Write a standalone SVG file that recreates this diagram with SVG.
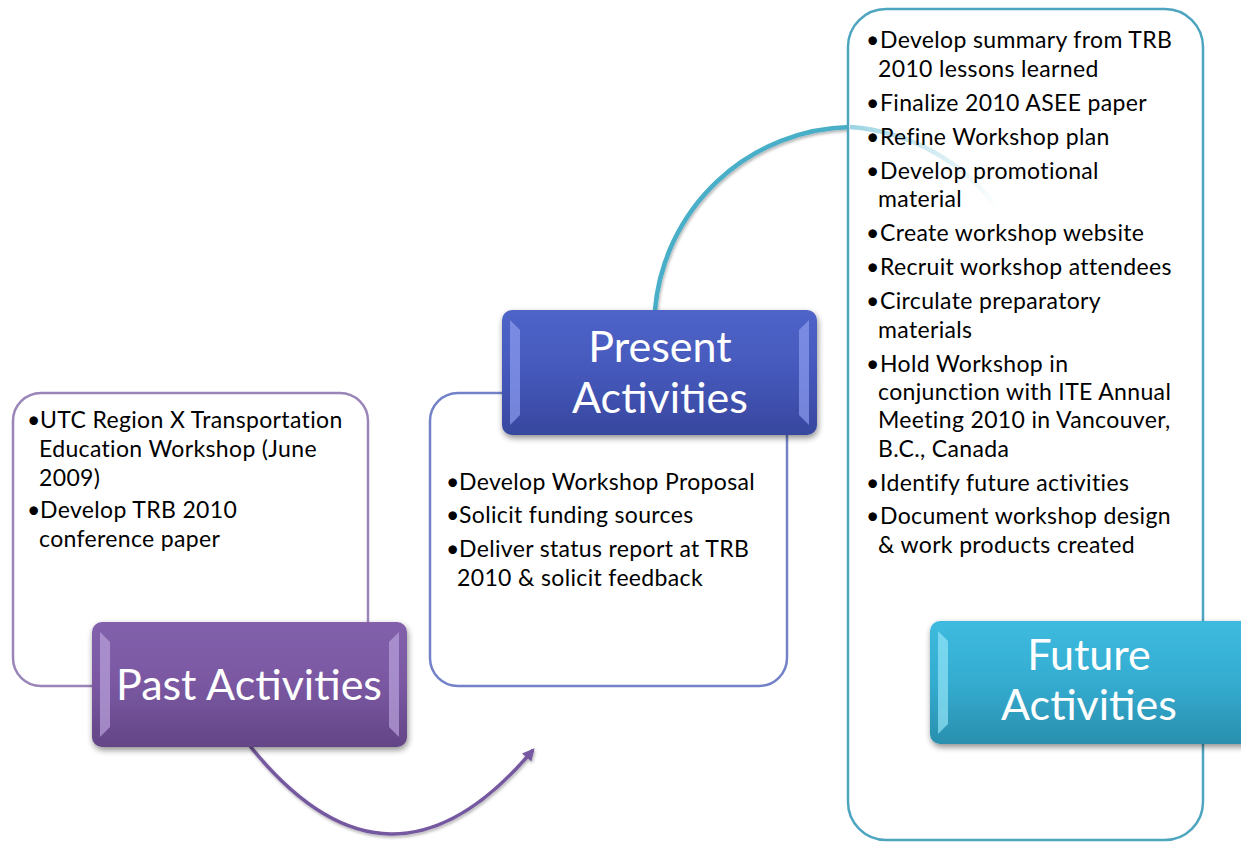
<svg xmlns="http://www.w3.org/2000/svg" width="1241" height="848" viewBox="0 0 1241 848">
  <style>
    .body { font-family: Lato, "Open Sans", "Liberation Sans", sans-serif; font-size: 23px; letter-spacing: 0.35px; fill: #000; }
    .label { font-family: Lato, "Open Sans", "Liberation Sans", sans-serif; font-size: 43px; fill: #fff; text-anchor: middle; }
    .panel { fill: #fff; stroke-width: 2.5; }
  </style>
  <defs>
    <linearGradient id="gPurple" x1="0" y1="0" x2="0" y2="1">
      <stop offset="0" stop-color="#8260ab"/>
      <stop offset="0.5" stop-color="#7a58a2"/>
      <stop offset="1" stop-color="#634586"/>
    </linearGradient>
    <linearGradient id="gBlue" x1="0" y1="0" x2="0" y2="1">
      <stop offset="0" stop-color="#4f64c8"/>
      <stop offset="0.5" stop-color="#4558bb"/>
      <stop offset="1" stop-color="#37479e"/>
    </linearGradient>
    <linearGradient id="gTeal" x1="0" y1="0" x2="0" y2="1">
      <stop offset="0" stop-color="#3dbbdf"/>
      <stop offset="0.5" stop-color="#34acd0"/>
      <stop offset="1" stop-color="#2a8fae"/>
    </linearGradient>
    <linearGradient id="fadeTeal" x1="0" y1="0" x2="1" y2="0">
      <stop offset="0" stop-color="#4bb0cc" stop-opacity="0.55"/>
      <stop offset="1" stop-color="#4bb0cc" stop-opacity="0"/>
    </linearGradient>
    <filter id="shadow" x="-10%" y="-10%" width="125%" height="130%">
      <feGaussianBlur in="SourceAlpha" stdDeviation="3"/>
      <feOffset dx="1" dy="3" result="b"/>
      <feComponentTransfer><feFuncA type="linear" slope="0.45"/></feComponentTransfer>
      <feMerge><feMergeNode/><feMergeNode in="SourceGraphic"/></feMerge>
    </filter>
    <filter id="softShadow" x="-10%" y="-10%" width="120%" height="130%">
      <feGaussianBlur in="SourceAlpha" stdDeviation="1.5"/>
      <feOffset dx="1" dy="2"/>
      <feComponentTransfer><feFuncA type="linear" slope="0.3"/></feComponentTransfer>
      <feMerge><feMergeNode/><feMergeNode in="SourceGraphic"/></feMerge>
    </filter>
    <marker id="arrowPurple" viewBox="0 0 10 10" refX="8" refY="5" markerWidth="3.5" markerHeight="3.5" orient="auto">
      <path d="M0,0 L10,5 L0,10 Z" fill="#7559a0"/>
    </marker>
  </defs>

  <!-- connectors -->
  <g id="connectors" fill="none">
    <path d="M250,746 Q390,920 533,750" stroke="#7559a0" stroke-width="3.5" marker-end="url(#arrowPurple)" filter="url(#softShadow)"/>
    <path d="M655,310 A200,200 0 0 1 850,127" stroke="#48aec8" stroke-width="4.5" filter="url(#softShadow)"/>
  </g>

  <!-- past -->
  <g id="past">
    <rect class="panel" x="13" y="393" width="355" height="293" rx="28" stroke="#9a85b8"/>
    <text class="body" x="27" y="428">•<tspan x="40">UTC Region X Transportation</tspan></text>
    <text class="body" x="39" y="457">Education Workshop (June</text>
    <text class="body" x="39" y="486">2009)</text>
    <text class="body" x="27" y="518">•<tspan x="40">Develop TRB 2010</tspan></text>
    <text class="body" x="39" y="547">conference paper</text>
    <g filter="url(#shadow)">
      <rect x="92" y="622" width="315" height="125" rx="10" fill="url(#gPurple)"/>
      <path d="M100,632 L110,642 L110,727 L100,737 Z" fill="#b9a3dc" opacity="0.7"/>
      <path d="M399,632 L389,642 L389,727 L399,737 Z" fill="#b9a3dc" opacity="0.7"/>
    </g>
    <text class="label" x="249" y="700">Past Activities</text>
  </g>

  <!-- present -->
  <g id="present">
    <rect class="panel" x="430" y="393" width="357" height="293" rx="28" stroke="#7382c8"/>
    <text class="body" x="446" y="490">•<tspan x="459">Develop Workshop Proposal</tspan></text>
    <text class="body" x="446" y="523">•<tspan x="459">Solicit funding sources</tspan></text>
    <text class="body" x="446" y="557">•<tspan x="459">Deliver status report at TRB</tspan></text>
    <text class="body" x="457" y="586">2010 &amp; solicit feedback</text>
    <g filter="url(#shadow)">
      <rect x="502" y="310" width="315" height="125" rx="10" fill="url(#gBlue)"/>
      <path d="M510,320 L520,330 L520,415 L510,425 Z" fill="#8c9cf0" opacity="0.7"/>
      <path d="M809,320 L799,330 L799,415 L809,425 Z" fill="#8c9cf0" opacity="0.7"/>
    </g>
    <text class="label" x="660" y="362">Present</text>
    <text class="label" x="660" y="413">Activities</text>
  </g>

  <!-- future -->
  <g id="future">
    <rect class="panel" x="848" y="9" width="355" height="831" rx="38" stroke="#4ea5c0"/>
    <path d="M850,127 A200,200 0 0 1 1000,212" fill="none" stroke="url(#fadeTeal)" stroke-width="4.5"/>
    <text class="body" x="866" y="48">•<tspan x="880">Develop summary from TRB</tspan></text>
    <text class="body" x="878" y="77">2010 lessons learned</text>
    <text class="body" x="866" y="111">•<tspan x="880">Finalize 2010 ASEE paper</tspan></text>
    <text class="body" x="866" y="145">•<tspan x="880">Refine Workshop plan</tspan></text>
    <text class="body" x="866" y="179">•<tspan x="880">Develop promotional</tspan></text>
    <text class="body" x="878" y="207">material</text>
    <text class="body" x="866" y="241">•<tspan x="880">Create workshop website</tspan></text>
    <text class="body" x="866" y="275">•<tspan x="880">Recruit workshop attendees</tspan></text>
    <text class="body" x="866" y="309">•<tspan x="880">Circulate preparatory</tspan></text>
    <text class="body" x="878" y="338">materials</text>
    <text class="body" x="866" y="372">•<tspan x="880">Hold Workshop in</tspan></text>
    <text class="body" x="878" y="400">conjunction with ITE Annual</text>
    <text class="body" x="878" y="428">Meeting 2010 in Vancouver,</text>
    <text class="body" x="878" y="457">B.C., Canada</text>
    <text class="body" x="866" y="491">•<tspan x="880">Identify future activities</tspan></text>
    <text class="body" x="866" y="524">•<tspan x="880">Document workshop design</tspan></text>
    <text class="body" x="878" y="553">&amp; work products created</text>
    <g filter="url(#shadow)">
      <rect x="930" y="621" width="325" height="123" rx="10" fill="url(#gTeal)"/>
      <path d="M938,631 L948,641 L948,724 L938,734 Z" fill="#93e4f7" opacity="0.7"/>
    </g>
    <text class="label" x="1089" y="670">Future</text>
    <text class="label" x="1089" y="720">Activities</text>
  </g>
</svg>
